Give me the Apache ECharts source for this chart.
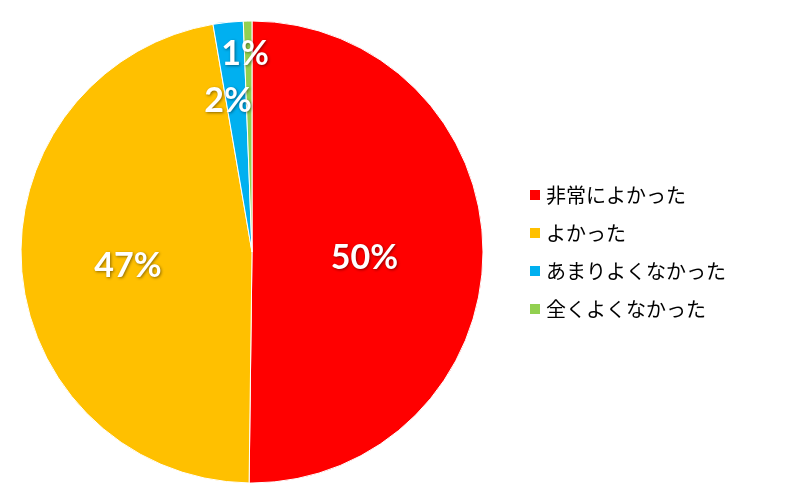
<!DOCTYPE html>
<html><head><meta charset="utf-8">
<script src="https://cdn.jsdelivr.net/npm/echarts@6/dist/echarts.min.js"></script>
<style>html,body{margin:0;padding:0;background:#fff}#c{width:800px;height:500px}</style>
</head><body><div id="c"></div>
<script>
const categories = ['非常によかった', 'よかった', 'あまりよくなかった', '全くよくなかった'];
const values = [50.2, 47.1, 2.1, 0.6];
const colors = ['#FF0000', '#FFC000', '#00B0F0', '#92D050'];

const chart = echarts.init(document.getElementById('c'), null, {renderer: 'canvas'});
const labelStyle = {
  position: 'inside',
  color: '#fff', fontFamily: 'Lato', fontWeight: 'bold', fontSize: 34,
  textShadowColor: 'rgba(0,0,0,0.45)', textShadowBlur: 3, textShadowOffsetX: 1, textShadowOffsetY: 1,
  formatter: p => Math.round(p.value) + '%'
};
function mkData(showIdx) {
  return categories.map((n, i) => ({
    name: n, value: values[i],
    label: {show: showIdx.indexOf(i) >= 0}
  }));
}
const center = [252, 252];
const R = 231;
chart.setOption({
  animation: false,
  color: colors,
  legend: {
    orient: 'vertical', left: 523, top: 180,
    icon: 'rect', itemWidth: 12, itemHeight: 12, itemGap: 18,
    textStyle: {fontFamily: 'Noto Sans CJK JP', fontSize: 20, color: '#000'},
    data: categories,
    selectedMode: false
  },
  series: [
    {
      type: 'pie', center: center, radius: [0, R], startAngle: 90, clockwise: true,
      itemStyle: {borderColor: '#fff', borderWidth: 1},
      label: labelStyle,
      labelLayout: {dx: -6, dy: 5},
      labelLine: {show: false},
      emphasis: {disabled: true},
      data: mkData([0, 1])
    },
    {
      type: 'pie', center: center, radius: [170, R], startAngle: 90, silent: true,
      itemStyle: {color: 'rgba(0,0,0,0)'},
      label: labelStyle,
      labelLayout: {dx: -3, dy: 5},
      labelLine: {show: false},
      emphasis: {disabled: true},
      data: mkData([3])
    },
    {
      type: 'pie', center: center, radius: [73, R], startAngle: 90, silent: true,
      itemStyle: {color: 'rgba(0,0,0,0)'},
      label: labelStyle,
      labelLayout: {dx: -8, dy: 3},
      labelLine: {show: false},
      emphasis: {disabled: true},
      data: mkData([2])
    }
  ]
});
</script></body></html>
